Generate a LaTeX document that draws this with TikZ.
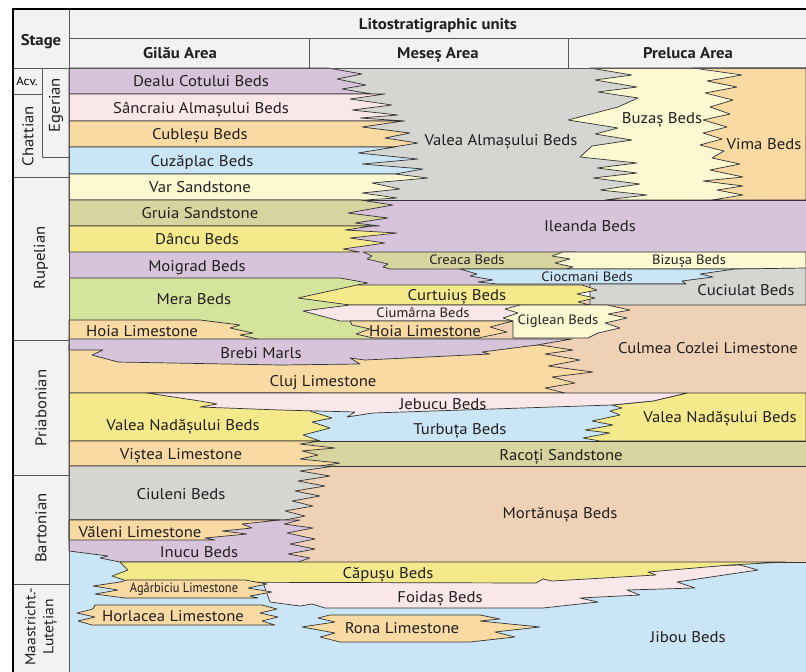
\documentclass[tikz,border=0pt]{standalone}
\usepackage{fontspec}
\setmainfont{PT Sans}[FakeStretch=1.08]
\definecolor{lc}{HTML}{333333}
\definecolor{tc}{HTML}{231F20}
\definecolor{hdr}{HTML}{F2F2F2}
\definecolor{cpur}{HTML}{D8C4DA}
\definecolor{cpink}{HTML}{FAE7E9}
\definecolor{cor}{HTML}{F9DAA3}
\definecolor{cblu}{HTML}{C9E5F6}
\definecolor{cly}{HTML}{FCF8D2}
\definecolor{ckh}{HTML}{D7D49F}
\definecolor{cyel}{HTML}{F4EA8B}
\definecolor{cgrn}{HTML}{D4E49C}
\definecolor{cgray}{HTML}{D5D5D1}
\definecolor{csal}{HTML}{EFD1B6}
\tikzset{
  u/.style={draw=lc, line width=0.7pt, line join=round},
  lbl/.style={font=\fontsize{15.5}{17}\selectfont, text=tc, inner sep=0pt, text height=11pt, text depth=1pt},
  slbl/.style={font=\fontsize{13.5}{15}\selectfont, text=tc, inner sep=0pt, text height=9.5pt, text depth=1pt},
  hlbl/.style={font=\fontsize{15.5}{17}\selectfont\bfseries, text=tc, inner sep=0pt, text height=11pt, text depth=1pt},
  stl/.style={font=\fontsize{15.5}{17}\selectfont, text=tc, inner sep=0pt, rotate=90},
  hl/.style={draw=black!65, line width=1pt},
}
\begin{document}
\begin{tikzpicture}[x=1pt,y=-1pt]
\useasboundingbox (0,0) rectangle (806,672);
\fill[white] (0,0) rectangle (806,672);
% header and stage backgrounds
\fill[hdr] (13,9) rectangle (806,68);
\fill[hdr] (13,68) rectangle (69,672);

% ---------- Chattian ----------
\fill[cgray] (69,68) rectangle (806,200);
\draw[u, fill=cly] (590,68) -- (632,75) -- (595,80) -- (637,87) -- (598,92) -- (638,98) -- (618,107) -- (568,120) -- (618,128) -- (595,134) -- (632,140) -- (592,146) -- (580,157) -- (637,163) -- (597,168) -- (637,173) -- (593,178) -- (640,184) -- (600,190) -- (647,195) -- (605,200) -- (806,200) -- (806,68) -- cycle;
\draw[u, fill=cor] (693,68) -- (742,75) -- (707,81) -- (737,87) -- (705,93) -- (733,100) -- (710,107) -- (730,114) -- (703,120) -- (727,127) -- (703,133) -- (722,139) -- (700,145) -- (724,151) -- (712,158) -- (740,164) -- (710,170) -- (743,177) -- (703,181) -- (743,186) -- (717,190) -- (743,195) -- (712,200) -- (806,200) -- (806,68) -- cycle;
\draw[u, fill=cpur] (69,68) -- (328,68) -- (362,74) -- (337,79) -- (366,85) -- (342,89) -- (372,94) -- (69,94) -- cycle;
\draw[u, fill=cpink] (69,94) -- (385,94) -- (350,99) -- (392,105) -- (352,110) -- (398,115) -- (360,118) -- (405,121) -- (69,121) -- cycle;
\draw[u, fill=cor] (69,121) -- (403,121) -- (362,127) -- (410,133) -- (385,138) -- (418,143) -- (393,147) -- (69,147) -- cycle;
\draw[u, fill=cblu] (69,147) -- (395,147) -- (358,153) -- (418,159) -- (362,164) -- (423,169) -- (395,174) -- (69,174) -- cycle;
\draw[u, fill=cly] (69,174) -- (395,174) -- (428,178) -- (372,183) -- (400,189) -- (362,193) -- (397,198) -- (365,200) -- (69,200) -- cycle;

% ---------- Rupelian ----------
\draw[u, fill=cpur] (69,200) rectangle (806,290);
\fill[csal] (480,300) rectangle (806,395);
\fill[cgrn] (69,278) -- (340,278) -- (368,283) -- (357,285) -- (480,285) -- (480,341) -- (69,341) -- cycle;
\draw[u] (69,278) -- (340,278) -- (368,283) -- (357,285);
\draw[u, fill=ckh] (69,200) -- (360,200) -- (393,205) -- (348,213) -- (388,218) -- (355,223) -- (380,226) -- (69,226) -- cycle;
\draw[u, fill=cyel] (69,226) -- (372,226) -- (345,230) -- (397,233) -- (350,238) -- (385,243) -- (343,249) -- (360,252) -- (69,252) -- cycle;
\draw[u, fill=ckh] (363,252) -- (575,252) -- (575,269) -- (390,269) -- (383,267) -- (388,264) -- (367,259) -- (372,256) -- cycle;
\draw[u, fill=cly] (806,252) -- (563,252) -- (552,256) -- (570,259) -- (555,263) -- (573,267) -- (566,269) -- (806,269) -- cycle;
\draw[u, fill=cblu] (460,269) -- (745,269) -- (745,284) -- (498,284) -- (478,282) -- (493,280) -- (470,276) -- (477,274) -- cycle;
\draw[u, fill=cgray] (806,268) -- (735,269) -- (700,274) -- (713,277) -- (682,281) -- (686,284) -- (590,284) -- (590,305) -- (806,305) -- cycle;
\draw[u, fill=cyel] (357,285) -- (582,285) -- (597,290) -- (577,294) -- (595,298) -- (578,302) -- (590,305) -- (350,305) -- (298,298) -- cycle;
\draw[u, fill=cpink] (350,305) -- (520,305) -- (520,321) -- (340,321) -- (303,311) -- cycle;
\draw[u, fill=cly] (520,305) -- (607,305) -- (630,310) -- (608,314) -- (627,318) -- (605,323) -- (620,328) -- (598,333) -- (588,338) -- (513,338) -- (513,321) -- (503,318) -- (518,313) -- (505,309) -- cycle;
\draw[u, fill=cor] (350,321) -- (513,321) -- (490,327) -- (507,332) -- (478,338) -- (373,338) -- (356,334) -- (370,329) -- (352,325) -- cycle;
\draw[u, fill=cor] (69,320) -- (200,320) -- (240,325) -- (230,328) -- (253,333) -- (240,335) -- (262,340) -- (69,340) -- cycle;

% ---------- Priabonian ----------
\draw[u, fill=cor] (69,345) -- (540,345) -- (573,350) -- (545,354) -- (580,360) -- (548,366) -- (593,372) -- (552,377) -- (575,383) -- (545,388) -- (565,393) -- (69,393) -- cycle;
\draw[u, fill=cpur] (69,339) -- (572,339) -- (537,345) -- (482,352) -- (490,354) -- (365,360) -- (350,358) -- (360,364) -- (280,365) -- (118,362) -- (92,355) -- (103,350) -- (69,350) -- cycle;
\fill[cblu] (300,405) rectangle (650,441);
\draw[u, fill=cyel] (69,393) -- (310,393) -- (310,411) -- (332,418) -- (312,422) -- (330,428) -- (303,435) -- (320,441) -- (69,441) -- cycle;
\draw[u, fill=cyel] (687,393) -- (806,393) -- (806,441) -- (600,441) -- (583,438) -- (610,433) -- (585,430) -- (613,425) -- (592,421) -- (620,415) -- (610,411) -- (622,408) -- (612,405) -- (653,401) -- cycle;
\draw[u, fill=cpink] (147,393) -- (687,393) -- (653,401) -- (612,405) -- (373,413) -- (347,417) -- (355,412) -- (280,410) -- (200,407) -- (217,404) -- (200,401) -- cycle;
\draw[u, fill=ckh] (300,441) rectangle (806,466);
\draw[u, fill=cor] (69,441) -- (320,441) -- (300,444) -- (335,448) -- (302,451) -- (318,455) -- (300,459) -- (340,463) -- (320,466) -- (69,466) -- cycle;

% ---------- Bartonian and below ----------
\fill[cblu] (69,540) rectangle (806,672);
\draw[u, fill=csal] (280,466) rectangle (806,562);
\draw[u, fill=cgray] (69,466) -- (335,466) -- (300,471) -- (330,476) -- (298,481) -- (325,486) -- (295,491) -- (320,496) -- (292,501) -- (313,506) -- (285,511) -- (305,516) -- (285,520) -- (69,520) -- cycle;
\draw[u, fill=cpur] (69,520) -- (300,520) -- (284,524) -- (313,528) -- (287,533) -- (315,539) -- (290,544) -- (315,549) -- (288,554) -- (310,558) -- (298,562) -- (120,562) -- (100,558) -- (108,556) -- (69,551) -- cycle;
\draw[u, fill=cor] (69,520) -- (280,520) -- (242,524) -- (252,528) -- (222,531) -- (247,534) -- (205,538) -- (215,540) -- (69,540) -- cycle;
\draw[u, fill=cpink] (262,580) -- (740,565) -- (758,570) -- (677,582) -- (695,588) -- (627,590) -- (640,595) -- (580,598) -- (598,602) -- (543,608) -- (325,608) -- (312,604) -- (300,606) -- (270,602) -- cycle;
\draw[u, fill=cyel] (120,562) -- (785,562) -- (730,565) -- (648,572) -- (656,575) -- (552,581) -- (543,579) -- (536,583) -- (130,582) -- (112,576) -- (128,570) -- cycle;
\draw[u, fill=cor] (127,580) -- (245,580) -- (267,584) -- (248,588) -- (272,592) -- (250,596) -- (258,598) -- (125,598) -- (95,594) -- (118,590) -- (93,586) -- (120,582) -- cycle;
\draw[u, fill=cor] (95,605) -- (262,605) -- (277,609) -- (260,613) -- (278,617) -- (262,621) -- (275,625) -- (92,625) -- (78,621) -- (95,617) -- (77,613) -- (93,609) -- cycle;
\draw[u, fill=cor] (330,615) -- (480,615) -- (500,619) -- (480,621) -- (540,627) -- (495,632) -- (515,637) -- (470,642) -- (340,642) -- (320,637) -- (335,633) -- (302,627) -- (335,622) -- (318,618) -- cycle;

% ---------- frame ----------
\draw[hl] (69,38) -- (806,38);
\draw[hl] (13,68) -- (806,68);
\draw[hl] (309,38) -- (309,68);
\draw[hl] (568,38) -- (568,68);
\draw[hl] (69,9) -- (69,672);
\draw[hl] (13,94) -- (42,94);
\draw[hl] (42,68) -- (42,157) -- (69,157);
\draw[hl] (13,177) -- (69,177);
\draw[hl] (13,340) -- (69,340);
\draw[hl] (13,475) -- (69,475);
\draw[hl] (13,584) -- (69,584);
\draw[line width=2.6pt, black] (13,672) -- (13,9) -- (806,9);

% ---------- header text ----------
\node[hlbl] (h0) at (438,24) {Litostratigraphic units};
\node[hlbl] (h1) at (41,40) {Stage};
\node[hlbl] (h2) at (180,53) {Gilău Area};
\node[hlbl] (h3) at (438,53) {Meseș Area};
\node[hlbl] (h4) at (688,53) {Preluca Area};
% stage text
\node[font=\fontsize{12}{13}\selectfont, inner sep=0pt] (s0) at (27,81) {Acv.};
\node[stl] (s1) at (56,105) {Egerian};
\node[stl] (s2) at (28,136) {Chattian};
\node[stl] (s3) at (41,258) {Rupelian};
\node[stl] (s4) at (41,408) {Priabonian};
\node[stl] (s5) at (41,528) {Bartonian};
\node[stl, align=center, font=\fontsize{14.5}{18}\selectfont] (s6) at (41,627) {Maastricht.-\\Lutețian};

% ---------- unit labels ----------
\node[lbl] (l1) at (201,81) {Dealu Cotului Beds};
\node[lbl] (l2) at (201,108) {Sâncraiu Almașului Beds};
\node[lbl] (l3) at (200,134) {Cubleșu Beds};
\node[lbl] (l4) at (202,161) {Cuzăplac Beds};
\node[lbl] (l5) at (200,187) {Var Sandstone};
\node[lbl] (l6) at (200,213) {Gruia Sandstone};
\node[lbl] (l7) at (197,239) {Dâncu Beds};
\node[lbl] (l8) at (197,266) {Moigrad Beds};
\node[lbl] (l9) at (194,299) {Mera Beds};
\node[lbl] (l10) at (142,331) {Hoia Limestone};
\node[lbl] (l11) at (501,140) {Valea Almașului Beds};
\node[lbl] (l12) at (662,118) {Buzaș Beds};
\node[lbl] (l13) at (764,144) {Vima Beds};
\node[lbl] (l14) at (590,226) {Ileanda Beds};
\node[slbl] (l15) at (467,260) {Creaca Beds};
\node[slbl] (l16) at (689,260) {Bizușa Beds};
\node[slbl] (l17) at (587,277) {Ciocmani Beds};
\node[lbl] (l18) at (746,290) {Cuciulat Beds};
\node[lbl] (l19) at (457,295) {Curtuiuș Beds};
\node[slbl] (l20) at (423,313) {Ciumârna Beds};
\node[lbl] (l21) at (425,331) {Hoia Limestone};
\node[slbl] (l22) at (558,320) {Ciglean Beds};
\node[lbl] (l23) at (708,348) {Culmea Cozlei Limestone};
\node[lbl] (l24) at (261,353) {Brebi Marls};
\node[lbl] (l25) at (323,381) {Cluj Limestone};
\node[lbl] (l26) at (443,404) {Jebucu Beds};
\node[lbl] (l27) at (183,425) {Valea Nadășului Beds};
\node[lbl] (l28) at (460,429) {Turbuța Beds};
\node[lbl] (l29) at (720,417) {Valea Nadășului Beds};
\node[lbl] (l30) at (181,454) {Viștea Limestone};
\node[lbl] (l31) at (561,455) {Racoți Sandstone};
\node[lbl] (l32) at (181,494) {Ciuleni Beds};
\node[lbl] (l33) at (560,513) {Mortănușa Beds};
\node[lbl] (l34) at (140,532) {Văleni Limestone};
\node[lbl] (l35) at (199,552) {Inucu Beds};
\node[lbl] (l36) at (388,573) {Căpușu Beds};
\node[slbl] (l37) at (184,588) {\scalebox{0.85}[1]{Agârbiciu Limestone}};
\node[lbl] (l38) at (440,597) {Foidaș Beds};
\node[lbl] (l39) at (173,616) {Horlacea Limestone};
\node[lbl] (l40) at (402,628) {Rona Limestone};
\node[lbl] (l41) at (688,637) {Jibou Beds};
\end{tikzpicture}
\end{document}
